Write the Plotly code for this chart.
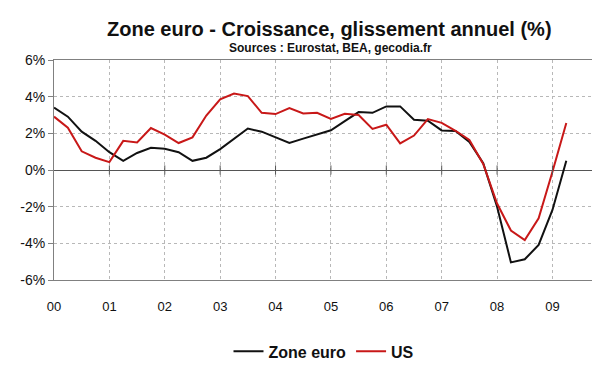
import plotly.graph_objects as go

# ---- data (quarterly, year-on-year growth, %) ----
quarters = [f"{y}T{q}" for y in range(2000, 2010) for q in range(1, 5)][:38]
zone_euro = [3.40, 2.91, 2.09, 1.59, 0.97, 0.50, 0.93, 1.21,
             1.16, 0.97, 0.50, 0.67, 1.14, 1.69, 2.26, 2.09,
             1.79, 1.47, 1.71, 1.96, 2.17, 2.67, 3.16, 3.12,
             3.47, 3.47, 2.74, 2.69, 2.16, 2.13, 1.53, 0.37,
             -2.00, -5.04, -4.87, -4.09, -2.18, 0.50]
us = [2.91, 2.31, 1.02, 0.67, 0.43, 1.59, 1.50, 2.29,
      1.93, 1.47, 1.78, 2.97, 3.86, 4.17, 4.03, 3.12,
      3.05, 3.38, 3.08, 3.12, 2.78, 3.07, 3.00, 2.24,
      2.47, 1.45, 1.88, 2.78, 2.57, 2.14, 1.64, 0.33,
      -1.83, -3.30, -3.82, -2.63, -0.10, 2.56]
year_labels = ["00", "01", "02", "03", "04", "05", "06", "07", "08", "09"]
y_ticks = [-6, -4, -2, 0, 2, 4, 6]

x = list(range(len(quarters)))
year_pos = [4 * i for i in range(len(year_labels))]

FONT = "Liberation Sans, Arial, sans-serif"

fig = go.Figure()
fig.add_trace(go.Scatter(x=x, y=zone_euro, mode="lines", name="Zone euro",
                         line=dict(color="#111111", width=2),
                         customdata=quarters, hovertemplate="%{customdata}: %{y}%<extra>Zone euro</extra>"))
fig.add_trace(go.Scatter(x=x, y=us, mode="lines", name="US",
                         line=dict(color="#c81818", width=2),
                         customdata=quarters, hovertemplate="%{customdata}: %{y}%<extra>US</extra>"))

# small tick marks crossing the zero line at each year
for p in year_pos[1:]:
    fig.add_shape(type="line", xref="x", yref="y", x0=p, x1=p, y0=-0.25, y1=0.25,
                  line=dict(color="#555555", width=1), layer="above")

fig.add_annotation(text="<b>Zone euro - Croissance, glissement annuel (%)</b>",
                   xref="paper", yref="paper", x=(321 - 44) / 542, y=(283 - 19.5) / 231,
                   xanchor="center", yanchor="middle", showarrow=False,
                   font=dict(family=FONT, size=20, color="#111111"))
fig.add_annotation(text="<b>Sources : Eurostat, BEA, gecodia.fr</b>",
                   xref="paper", yref="paper", x=(321.7 - 44) / 542, y=(283 - 39.3) / 231,
                   xanchor="center", yanchor="middle", showarrow=False,
                   font=dict(family=FONT, size=12, color="#111111"))

fig.update_layout(
    width=600, height=372,
    margin=dict(l=44, r=14, t=52, b=89),
    paper_bgcolor="white", plot_bgcolor="white",
    font=dict(family=FONT, color="#111111"),
    showlegend=True,
    legend=dict(orientation="h", x=(315 - 44) / 542, xanchor="center",
                y=(283 - 358) / 231, yanchor="middle",
                font=dict(family=FONT, size=16, weight="bold", color="#111111"),
                itemwidth=30, tracegroupgap=0, bgcolor="rgba(0,0,0,0)"),
    xaxis=dict(range=[0, 39], tickvals=year_pos, ticktext=year_labels,
               showgrid=True, gridcolor="#b8b8b8", griddash="dot", gridwidth=1,
               showline=True, linecolor="#808080", linewidth=1, mirror=True,
               ticks="", ticklabelstandoff=14, zeroline=False,
               tickfont=dict(family=FONT, size=13, color="#111111")),
    yaxis=dict(range=[-6, 6], tickvals=y_ticks, ticktext=[f"{v}%" for v in y_ticks],
               showgrid=True, gridcolor="#b8b8b8", griddash="dot", gridwidth=1,
               showline=True, linecolor="#808080", linewidth=1, mirror=True,
               ticks="outside", ticklen=5, tickcolor="#808080",
               zeroline=True, zerolinecolor="#555555", zerolinewidth=1,
               tickfont=dict(family=FONT, size=14, color="#111111")),
)

fig.write_html("out.html")
